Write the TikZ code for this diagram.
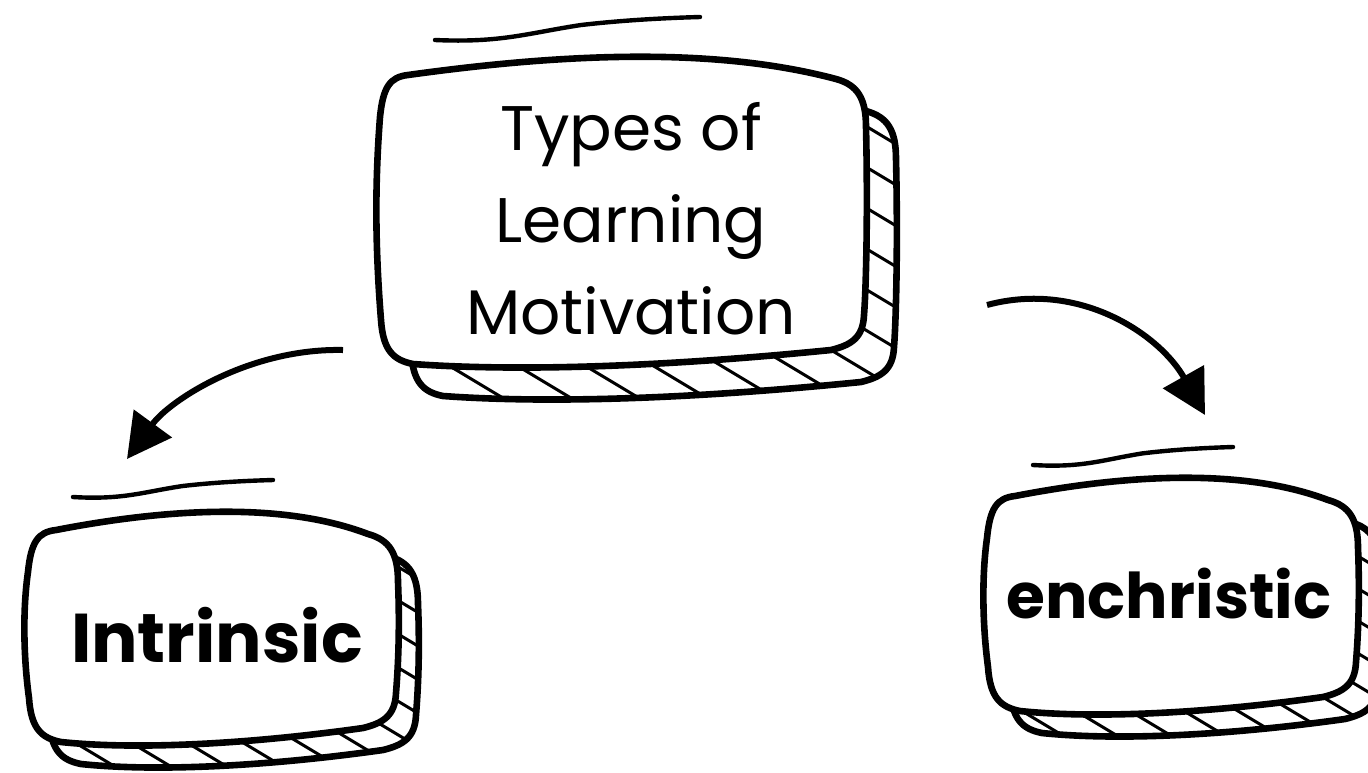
\documentclass[tikz,border=0pt]{standalone}
\usepackage{fontspec}
\setmainfont{Poppins}
\usetikzlibrary{arrows.meta}

% Outline of a hand-drawn card: #1 left, #2 top, #3 right, #4 bottom
\newcommand\cardpath[4]{%
  ({#1+30},{#2+18}) .. controls ({#1+0.4*(#3-#1)},{#2-5}) and ({#1+0.7*(#3-#1)},{#2-9}) .. ({#3-30},{#2+22})
  .. controls ({#3-8},{#2+28}) and ({#3},{#2+42}) .. ({#3},{#2+70})
  .. controls ({#3+2},{#2+0.5*(#4-#2)}) and ({#3},{#4-80}) .. ({#3-2},{#4-55})
  .. controls ({#3-3},{#4-32}) and ({#3-15},{#4-25}) .. ({#3-35},{#4-20})
  .. controls ({#3-0.4*(#3-#1)},{#4-4}) and ({#1+0.3*(#3-#1)},{#4+2}) .. ({#1+35},{#4-6})
  .. controls ({#1+15},{#4-10}) and ({#1+5},{#4-20}) .. ({#1+3},{#4-50})
  .. controls ({#1-3},{#4-0.4*(#4-#2)}) and ({#1-3},{#2+0.4*(#4-#2)}) .. ({#1+2},{#2+60})
  .. controls ({#1+5},{#2+30}) and ({#1+12},{#2+20}) .. cycle}

% Card with a hatched offset shadow: #1..#4 as above, #5 #6 shadow offset,
% #7 hatch spacing
\newcommand\sketchcard[7]{%
  \begin{scope}
    \clip[shift={(#5,#6)}] \cardpath{#1}{#2}{#3}{#4};
    \foreach \k in {0,...,30}
      \draw[hatch] ({#1-950+\k*#7},{#2-100}) -- ++(1000,600);
  \end{scope}
  \draw[cardline, shift={(#5,#6)}] \cardpath{#1}{#2}{#3}{#4};
  \draw[cardline, fill=white] \cardpath{#1}{#2}{#3}{#4};
}

% Wavy accent stroke above a card, from (#1,#2) to (#3,#4)
\newcommand\wavystroke[4]{%
  \draw[accentline] (#1,#2)
    .. controls ({#1+0.25*(#3-#1)},{#2+3}) and ({#1+0.35*(#3-#1)},{#2-0.3*(#2-#4)}) .. ({#1+0.55*(#3-#1)},{#2-0.65*(#2-#4)})
    .. controls ({#1+0.7*(#3-#1)},{#2-0.85*(#2-#4)}) and ({#1+0.85*(#3-#1)},{#2-0.95*(#2-#4)}) .. (#3,#4);
}

\tikzset{
  cardline/.style={line width=3.3pt, line join=round, line cap=round},
  hatch/.style={line width=1.5pt},
  accentline/.style={line width=2.2pt, line cap=round},
  flow/.style={line width=3pt, -{Triangle[length=22pt, width=23pt]}},
  titletext/.style={font=\fontsize{31.5}{46}\selectfont, align=center, inner sep=0pt},
  leaftext/.style={font=\bfseries, inner sep=0pt, anchor=base},
}

\begin{document}
\begin{tikzpicture}[x=0.5pt, y=-0.5pt]
  \useasboundingbox (0,0) rectangle (1368,772);
  \fill[white] (0,0) rectangle (1368,772);

  % cards
  \wavystroke{435}{40}{700}{17}
  \sketchcard{378}{57}{866}{370}{30}{32}{68}
  \wavystroke{73}{497}{273}{480}
  \sketchcard{26}{512}{398}{748}{20}{22}{56}
  \wavystroke{1033}{465}{1233}{447}
  \sketchcard{985}{478}{1358}{717}{22}{22}{54}

  % labels
  \node[titletext] (root) at (631,219) {Types of\\Learning\\Motivation};
  \node[leaftext, font=\bfseries\fontsize{34.5}{40}\selectfont] (intr) at (217,662) {Intrinsic};
  \node[leaftext, font=\bfseries\fontsize{31.5}{38}\selectfont] (extr) at (1169,618) {enchristic};

  % connectors
  \coordinate (l0) at (343,350);
  \coordinate (l1) at (127,459);
  \coordinate (r0) at (987,305);
  \coordinate (r1) at (1205,415);
  \draw[flow] (l0) .. controls (250,348) and (170,400) .. (l1);
  \draw[flow] (r0) .. controls (1080,280) and (1160,335) .. (r1);
\end{tikzpicture}
\end{document}
